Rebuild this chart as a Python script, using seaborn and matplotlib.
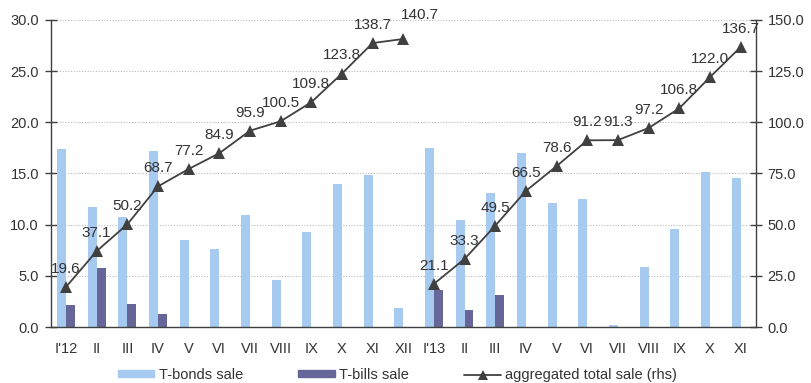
import matplotlib
matplotlib.use("Agg")
import matplotlib.pyplot as plt
import seaborn as sns
import pandas as pd
import numpy as np
from matplotlib.ticker import MultipleLocator, FixedLocator, FormatStrFormatter
from matplotlib.patches import Patch
from matplotlib.lines import Line2D

months = ["I'12", "II", "III", "IV", "V", "VI", "VII", "VIII", "IX", "X", "XI", "XII",
          "I'13", "II", "III", "IV", "V", "VI", "VII", "VIII", "IX", "X", "XI"]
bonds = [17.4, 11.7, 10.8, 17.2, 8.5, 7.6, 10.9, 4.6, 9.3, 14.0, 14.9, 1.9,
         17.5, 10.5, 13.1, 17.0, 12.1, 12.5, 0.2, 5.9, 9.6, 15.1, 14.6]
bills = [2.2, 5.8, 2.3, 1.3, 0, 0, 0, 0, 0, 0, 0, 0,
         3.6, 1.7, 3.1, 0, 0, 0, 0, 0, 0, 0, 0]
total_2012 = [19.6, 37.1, 50.2, 68.7, 77.2, 84.9, 95.9, 100.5, 109.8, 123.8, 138.7, 140.7]
total_2013 = [21.1, 33.3, 49.5, 66.5, 78.6, 91.2, 91.3, 97.2, 106.8, 122.0, 136.7]

sns.set_theme(style="white")
plt.rcParams['font.family'] = ['Liberation Sans', 'DejaVu Sans']

keys = [f"{i}_{m}" for i, m in enumerate(months)]
df = pd.DataFrame({
    "key": keys * 2,
    "value": bonds + bills,
    "series": ["T-bonds sale"] * len(keys) + ["T-bills sale"] * len(keys),
})

fig = plt.figure(figsize=(8.11, 3.83), dpi=100)
ax = fig.add_axes([0.0625, 0.146, 0.8695, 0.802])
c_bonds = "#A6CAF0"
c_bills = "#666699"
line_c = "#404040"
txt_c = "#333333"
fs = 10.5

sns.barplot(data=df, x="key", y="value", hue="series", order=keys,
            palette=[c_bonds, c_bills], width=0.58, ax=ax, legend=False,
            saturation=1, linewidth=0, zorder=2)
ax.set_xlim(-0.5, len(keys) - 0.5)
ax.set_ylim(0, 30)
ax.yaxis.set_major_locator(MultipleLocator(5))
ax.yaxis.set_major_formatter(FormatStrFormatter('%.1f'))
ax.grid(axis='y', color='#BBBBBB', linestyle=(0, (1, 1.5)), linewidth=0.8, zorder=0)
ax.set_axisbelow(True)
ax.set_xlabel("")
ax.set_ylabel("")
ax.set_xticks(range(len(keys)))
ax.set_xticklabels(months)
ax.xaxis.set_minor_locator(FixedLocator(np.arange(-0.5, len(keys), 1.0)))
ax.tick_params(axis='x', which='major', length=0, pad=11, labelsize=fs, labelcolor=txt_c)
ax.tick_params(axis='x', which='minor', length=9, direction='inout', color='#404040', width=1)
ax.tick_params(axis='y', length=9, direction='inout', color='#404040', width=1, labelsize=fs, labelcolor=txt_c, pad=4)
for s in ["top", "right"]:
    ax.spines[s].set_visible(False)
for s in ["left", "bottom"]:
    ax.spines[s].set_color('#404040')
    ax.spines[s].set_linewidth(1)

ax2 = ax.twinx()
x12 = list(range(len(total_2012)))
x13 = list(range(len(total_2012), len(total_2012) + len(total_2013)))
for xs, ys in [(x12, total_2012), (x13, total_2013)]:
    sns.lineplot(x=xs, y=ys, ax=ax2, color=line_c, marker='^', markersize=8.5,
                 markeredgewidth=0, linewidth=1.3, zorder=5)
    for j, (xv, yv) in enumerate(zip(xs, ys)):
        off = (0, 8)
        if xs is x12 and j == len(xs) - 1:
            off = (12, 12)
        ax2.annotate(f"{yv:.1f}", (xv, yv), xytext=off, textcoords='offset points',
                     ha='center', va='bottom', fontsize=fs + 0.5, color=txt_c)
ax2.set_ylim(0, 150)
ax2.set_xlim(-0.5, len(keys) - 0.5)
ax2.yaxis.set_major_locator(MultipleLocator(25))
ax2.yaxis.set_major_formatter(FormatStrFormatter('%.1f'))
ax2.tick_params(axis='y', length=9, direction='inout', color='#404040', width=1, labelsize=fs, labelcolor=txt_c, pad=4)
for s in ["top", "left", "bottom"]:
    ax2.spines[s].set_visible(False)
ax2.spines["right"].set_color('#404040')
ax2.spines["right"].set_linewidth(1)
ax2.grid(False)

handles = [Patch(color=c_bonds, label="T-bonds sale"),
           Patch(color=c_bills, label="T-bills sale"),
           Line2D([], [], color=line_c, marker='^', markersize=7, markeredgewidth=0, linewidth=1.3,
                  label="aggregated total sale (rhs)")]
fig.legend(handles=handles, loc='center', bbox_to_anchor=(0.49, 1 - 375 / 383), ncol=3,
           frameon=False, fontsize=fs, handlelength=2.5, handleheight=0.4,
           columnspacing=3.8, handletextpad=0.3, labelcolor=txt_c, borderpad=0)

fig.savefig("out.png", dpi=100)
